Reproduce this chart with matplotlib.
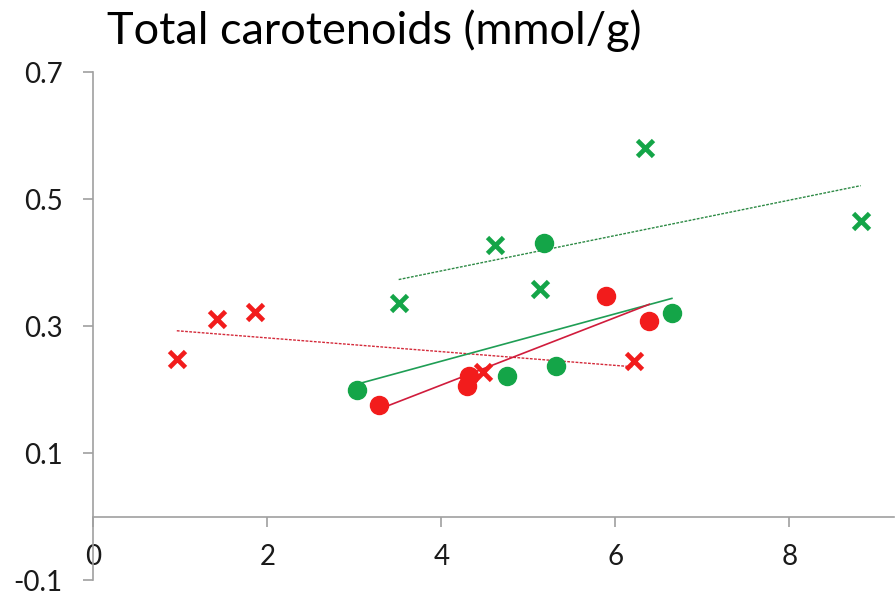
import matplotlib
matplotlib.use("Agg")
import matplotlib.pyplot as plt
import numpy as np

plt.rcParams['font.family'] = ['Lato', 'DejaVu Sans']

# Data
red_x_x = [0.96, 1.42, 1.86, 4.48, 6.21]
red_x_y = [0.248, 0.311, 0.322, 0.228, 0.245]
red_o_x = [3.28, 4.29, 4.32, 5.89, 6.39]
red_o_y = [0.176, 0.206, 0.221, 0.347, 0.308]
green_x_x = [3.51, 4.62, 5.13, 6.34, 8.82]
green_x_y = [0.336, 0.428, 0.359, 0.581, 0.466]
green_o_x = [3.03, 4.75, 5.32, 5.18, 6.65]
green_o_y = [0.199, 0.221, 0.237, 0.431, 0.320]

x_ticks = [0, 2, 4, 6, 8]
y_ticks = [-0.1, 0.1, 0.3, 0.5, 0.7]
title = "Total carotenoids (mmol/g)"

RED = '#f21c1c'
GREEN = '#14a548'

fig = plt.figure(figsize=(8.96, 5.98), dpi=100)
ax = fig.add_axes([0.1041, 0.0301, 0.8934, 0.849])

def trend(xs, ys, color, ls, lw):
    xs = np.asarray(xs); ys = np.asarray(ys)
    m, b = np.polyfit(xs, ys, 1)
    xx = np.array([xs.min(), xs.max()])
    ax.plot(xx, m * xx + b, color=color, ls=ls, lw=lw, zorder=2)

trend(red_x_x, red_x_y, '#d42a3a', (0, (2, 1)), 1.0)
trend(green_x_x, green_x_y, '#2d8a45', (0, (2, 1)), 1.0)
trend(green_o_x, green_o_y, '#1f9e55', '-', 1.2)
trend(red_o_x, red_o_y, '#d01c3c', '-', 1.2)

ax.plot(red_x_x, red_x_y, ls='none', marker='x', ms=11, mew=3.4, color=RED, zorder=3)
ax.plot(red_o_x, red_o_y, ls='none', marker='o', ms=13, color=RED, mec=RED, zorder=3)
ax.plot(green_x_x, green_x_y, ls='none', marker='x', ms=11, mew=3.4, color=GREEN, zorder=3)
ax.plot(green_o_x, green_o_y, ls='none', marker='o', ms=13, color=GREEN, mec=GREEN, zorder=3)

ax.set_xlim(0, 9.2)
ax.set_ylim(-0.1, 0.7)
ax.spines['right'].set_visible(False)
ax.spines['top'].set_visible(False)
ax.spines['left'].set_position(('data', 0))
ax.spines['bottom'].set_position(('data', 0))
for s in ('left', 'bottom'):
    ax.spines[s].set_color('#a0a0a0')
    ax.spines[s].set_linewidth(1.2)

ax.set_xticks(x_ticks)
ax.set_xticklabels([str(t) for t in x_ticks])
ax.set_yticks(y_ticks)
ax.set_yticklabels([f"{t:.1f}" for t in y_ticks])
ax.tick_params(axis='both', direction='out', length=7, width=1.2, color='#a0a0a0',
               labelsize=20, labelcolor='#1a1a1a')
ax.tick_params(axis='x', pad=13)
ax.tick_params(axis='y', pad=15)

fig.text(0.1194, 0.948, title, fontsize=32.5, color='#000000', ha='left', va='center')

fig.savefig("out.png", dpi=100)
